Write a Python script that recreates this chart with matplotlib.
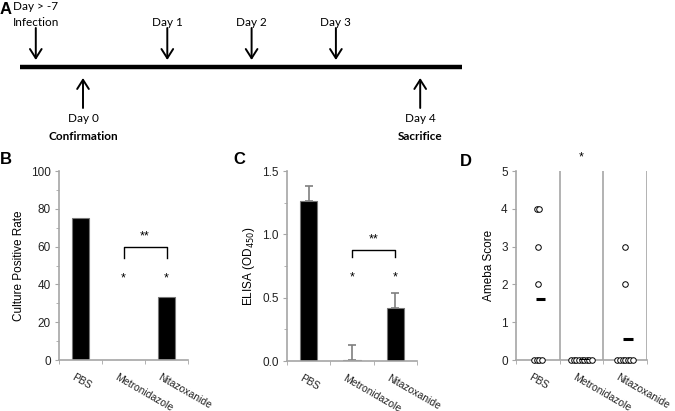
import matplotlib
matplotlib.use('Agg')
import matplotlib.pyplot as plt
import matplotlib.transforms as mtransforms
import numpy as np

plt.rcParams['font.family'] = ['Liberation Sans', 'DejaVu Sans']

# timeline (panel A), positions in days on the schematic axis
down_days = [-0.56, 1, 2, 3]
down_top = ['Day > -7', '', '', '']
down_bottom = ['Infection', 'Day 1', 'Day 2', 'Day 3']
up_days = [0, 4]
up_top = ['Day 0', 'Day 4']
up_bottom = ['Confirmation', 'Sacrifice']
timeline_span = [-0.75, 4.5]

groups = ['PBS', 'Metronidazole', 'Nitazoxanide']

# panel B
culture_rate = [75, 0, 33.3]

# panel C
elisa_mean = [1.26, 0.01, 0.42]
elisa_err = [0.12, 0.12, 0.12]

# panel D
ameba_scores = [
    [4, 4, 3, 2, 0, 0, 0, 0],
    [0, 0, 0, 0, 0, 0, 0, 0, 0],
    [3, 2, 0, 0, 0, 0, 0, 0, 0],
]

W, H = 675, 411
fig = plt.figure(figsize=(W / 100, H / 100), dpi=100)


def px_axes(left, top, right, bottom):
    return fig.add_axes([left / W, 1 - bottom / H, (right - left) / W, (bottom - top) / H])


gray = '#a6a6a6'
tl_font = ['Lato', 'DejaVu Sans']
tl_size = 8.5

# ---- panel A ----
axa = fig.add_axes([0, 1 - 150 / H, 1, 150 / H])
axa.set_xlim((0 - 83) / 84.3, (W - 83) / 84.3)
axa.set_ylim(150, 0)
axa.axis('off')
axa.plot(timeline_span, [67, 67], color='black', lw=3.2, solid_capstyle='butt')
arrow_kw = dict(arrowstyle='->, head_length=0.55, head_width=0.35', lw=1.4,
                color='black', mutation_scale=12, shrinkA=0, shrinkB=0)
for d, t1, t2 in zip(down_days, down_top, down_bottom):
    axa.annotate('', xy=(d, 60), xytext=(d, 28), arrowprops=arrow_kw)
    if t1:
        axa.text(d, 6, t1, ha='center', va='center', fontsize=tl_size, family=tl_font)
    axa.text(d, 22, t2, ha='center', va='center', fontsize=tl_size, family=tl_font)
for d, t1, t2 in zip(up_days, up_top, up_bottom):
    axa.annotate('', xy=(d, 78), xytext=(d, 108), arrowprops=arrow_kw)
    axa.text(d, 118, t1, ha='center', va='center', fontsize=tl_size, family=tl_font)
    axa.text(d, 136, t2, ha='center', va='center', fontsize=tl_size,
             fontweight='bold', family=tl_font)

fig.text(0 / W, 1 - 10 / H, 'A', fontsize=12, fontweight='bold', va='center')
fig.text(0 / W, 1 - 160 / H, 'B', fontsize=12, fontweight='bold', va='center')
fig.text(233 / W, 1 - 160 / H, 'C', fontsize=12, fontweight='bold', va='center')
fig.text(460 / W, 1 - 162 / H, 'D', fontsize=12, fontweight='bold', va='center')


def style_axes(ax):
    for s in ['top', 'right']:
        ax.spines[s].set_visible(False)
    for s in ['left', 'bottom']:
        ax.spines[s].set_color(gray)
        ax.spines[s].set_linewidth(1.2)
    ax.tick_params(axis='y', which='both', colors=gray, labelcolor='#222222',
                   labelsize=8.5, direction='out', pad=3)
    ax.tick_params(axis='y', which='major', length=3)
    ax.tick_params(axis='y', which='minor', length=2)
    x = np.arange(len(groups))
    ax.set_xlim(-0.5, len(groups) - 0.5)
    ax.set_xticks(x)
    ax.set_xticklabels(groups, rotation=-30, ha='left', rotation_mode='anchor', fontsize=7.5,
                       color='#222222')
    ax.set_xticks(np.arange(len(groups) + 1) - 0.5, minor=True)
    ax.tick_params(axis='x', which='major', length=0, pad=9)
    ax.tick_params(axis='x', which='minor', length=3, colors=gray)
    off = mtransforms.ScaledTranslation(-4 / 72, 0, fig.dpi_scale_trans)
    for lab in ax.get_xticklabels():
        lab.set_transform(lab.get_transform() + off)


# ---- panel B ----
axb = px_axes(59, 171, 188, 360)
style_axes(axb)
xb = np.arange(len(groups))
axb.bar(xb, culture_rate, width=0.4, color='black', edgecolor='#777777', lw=0.8)
axb.set_ylim(0, 100)
axb.set_yticks(np.arange(0, 101, 20))
axb.set_yticks(np.arange(10, 100, 20), minor=True)
axb.set_ylabel('Culture Positive Rate', fontsize=8.5)
axb.plot([1, 1, 2, 2], [54, 60, 60, 54], color='black', lw=1)
axb.text(1.5, 62, '**', ha='center', va='bottom', fontsize=9)
for i in [1, 2]:
    axb.text(i, 43, '*', ha='center', va='center', fontsize=9)

# ---- panel C ----
axc = px_axes(287, 171, 417, 361)
style_axes(axc)
axc.bar(xb, elisa_mean, width=0.4, color='black', edgecolor='#777777', lw=0.8)
axc.errorbar(xb, elisa_mean, yerr=[np.zeros(3), elisa_err], fmt='none',
             ecolor='#7f7f7f', elinewidth=1.2, capsize=3, capthick=1.2)
axc.set_ylim(0, 1.5)
axc.set_yticks([0, 0.5, 1.0, 1.5])
axc.set_yticklabels(['0.0', '0.5', '1.0', '1.5'])
axc.set_yticks([0.25, 0.75, 1.25], minor=True)
axc.set_ylabel('ELISA (OD$_{450}$)', fontsize=8.5)
axc.plot([1, 1, 2, 2], [0.82, 0.88, 0.88, 0.82], color='black', lw=1)
axc.text(1.5, 0.91, '**', ha='center', va='bottom', fontsize=9)
for i in [1, 2]:
    axc.text(i, 0.66, '*', ha='center', va='center', fontsize=9)

# ---- panel D ----
axd = px_axes(516, 171, 647, 360)
style_axes(axd)
axd.set_ylim(0, 5)
axd.set_yticks(range(6))
for b in [0.5, 1.5, 2.5]:
    axd.axvline(b, color=gray, lw=1.2)
step = 0.06
for i, scores in enumerate(ameba_scores):
    vals = np.array(scores)
    for v in np.unique(vals):
        k = np.sum(vals == v)
        xs = i + (np.arange(k) - (k - 1) / 2) * step
        axd.plot(xs, np.full(k, v), 'o', mfc='white', mec='black', ms=4, mew=0.7,
                 clip_on=False, zorder=3)
    m = vals.mean()
    axd.hlines(m, i - 0.05, i + 0.17, color='black', lw=2.2, zorder=4)
axd.set_ylabel('Ameba Score', fontsize=8.5)
axd.text(1, 5.37, '*', ha='center', va='center', fontsize=9, clip_on=False)

fig.savefig('out.png', dpi=100)
